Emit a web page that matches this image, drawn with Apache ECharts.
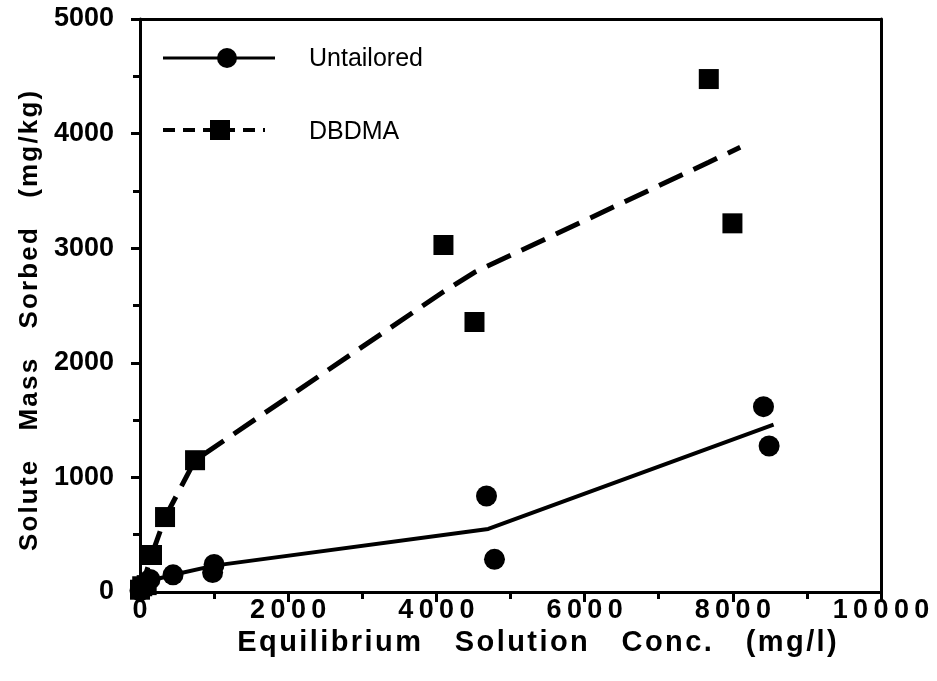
<!DOCTYPE html>
<html>
<head>
<meta charset="utf-8">
<script src="https://cdn.jsdelivr.net/npm/echarts@6/dist/echarts.min.js"></script>
<style>html,body{margin:0;padding:0;background:#fff;}#c{width:937px;height:681px;}</style>
</head>
<body>
<div id="c"></div>
<script>
// Measured points
const untailoredPts = [[0,10],[30,30],[70,50],[135,110],[446,150],[980,170],[1000,240],[4676,838],[4784,285],[8414,1617],[8490,1274]];
const dbdmaPts = [[0,20],[30,50],[90,60],[162,323],[338,654],[743,1150],[4095,3028],[4514,2356],[7676,4476],[7995,3217]];
// Fitted curves
const untFitX = [0, 150, 450, 1000, 4700, 8550];
const untFitY = [0, 100, 150, 230, 550, 1460];
const dbFitX = [0, 162, 338, 743, 4095, 4514, 7676, 8100];
const dbFitY = [0, 330, 650, 1150, 2620, 2790, 3750, 3880];
const xTicks = [0, 2000, 4000, 6000, 8000, 10000];
const yTicks = [0, 1000, 2000, 3000, 4000, 5000];
const legendNames = ['Untailored', 'DBDMA'];
const xTitle = 'Equilibrium   Solution   Conc.   (mg/l)';
const yTitle = 'Solute   Mass   Sorbed   (mg/kg)';

const FONT = '"Liberation Sans", Arial, Helvetica, sans-serif';
const spaced = (s, ch) => s.split('').join(ch);
const chart = echarts.init(document.getElementById('c'), null, {renderer: 'canvas'});
const zip = (xs, ys) => xs.map((x, i) => [x, ys[i]]);

chart.setOption({
  animation: false,
  backgroundColor: '#fff',
  grid: {left: 140, right: 56, top: 19, bottom: 89, containLabel: false},
  xAxis: [{
    type: 'value', min: 0, max: 10000, interval: 2000,
    name: spaced(xTitle, '\u200A'),
    nameLocation: 'middle', nameGap: 24,
    nameTextStyle: {fontFamily: FONT, fontWeight: 'bold', fontSize: 29, color: '#000', padding: [0, 0, 0, 53]},
    axisLine: {show: true, lineStyle: {color: '#000', width: 3}},
    axisTick: {show: true, inside: false, length: 10, lineStyle: {color: '#000', width: 3}},
    minorTick: {show: true, splitNumber: 2, length: 7, lineStyle: {color: '#000', width: 3}},
    splitLine: {show: false},
    axisLabel: {fontFamily: FONT, fontWeight: 'bold', fontSize: 27, color: '#000', margin: 5,
      formatter: v => xTicks.includes(v) ? spaced(String(v), '\u2009') : ''}
  }, {
    type: 'value', min: 0, max: 10000, position: 'top',
    axisLine: {show: true, onZero: false, lineStyle: {color: '#000', width: 3}},
    axisTick: {show: false}, axisLabel: {show: false}, splitLine: {show: false}
  }],
  yAxis: [{
    type: 'value', min: 0, max: 5000, interval: 1000,
    name: spaced(yTitle, '\u200A'),
    nameLocation: 'middle', nameGap: 96, nameRotate: 90,
    nameTextStyle: {fontFamily: FONT, fontWeight: 'bold', fontSize: 26, color: '#000', padding: [0, 31, 0, 0]},
    axisLine: {show: true, lineStyle: {color: '#000', width: 3}},
    axisTick: {show: true, inside: false, length: 9, lineStyle: {color: '#000', width: 3}},
    minorTick: {show: true, splitNumber: 2, length: 7, lineStyle: {color: '#000', width: 3}},
    splitLine: {show: false},
    axisLabel: {fontFamily: FONT, fontWeight: 'bold', fontSize: 27, color: '#000', margin: 26,
      formatter: v => yTicks.includes(v) ? String(v) : ''}
  }, {
    type: 'value', min: 0, max: 5000, position: 'right',
    axisLine: {show: true, onZero: false, lineStyle: {color: '#000', width: 3}},
    axisTick: {show: false}, axisLabel: {show: false}, splitLine: {show: false}
  }],
  series: [
    {name: legendNames[0] + ' fit', type: 'line', data: zip(untFitX, untFitY), showSymbol: false, symbol: 'none',
      lineStyle: {color: '#000', width: 4, type: 'solid'}, z: 2},
    {name: legendNames[1] + ' fit', type: 'line', data: zip(dbFitX, dbFitY), showSymbol: false, symbol: 'none',
      lineStyle: {color: '#000', width: 5, type: [26, 12]}, z: 2},
    {name: legendNames[0], type: 'scatter', data: untailoredPts, symbol: 'circle', symbolSize: 21,
      itemStyle: {color: '#000', opacity: 1}, z: 3},
    {name: legendNames[1], type: 'scatter', data: dbdmaPts, symbol: 'rect', symbolSize: 20,
      itemStyle: {color: '#000', opacity: 1}, z: 3}
  ],
  graphic: [
    {type: 'line', shape: {x1: 163, y1: 58, x2: 275, y2: 58}, style: {stroke: '#000', lineWidth: 3}},
    {type: 'circle', shape: {cx: 227, cy: 58, r: 10}, style: {fill: '#000'}},
    {type: 'text', x: 309, y: 59, style: {text: legendNames[0], font: '25px ' + FONT, fill: '#000', verticalAlign: 'middle'}},
    {type: 'line', shape: {x1: 163, y1: 130, x2: 265, y2: 130}, style: {stroke: '#000', lineWidth: 4, lineDash: [12, 8]}},
    {type: 'rect', shape: {x: 210, y: 120, width: 20, height: 20}, style: {fill: '#000'}},
    {type: 'text', x: 309, y: 132, style: {text: legendNames[1], font: '25px ' + FONT, fill: '#000', verticalAlign: 'middle'}}
  ]
});
</script>
</body>
</html>
